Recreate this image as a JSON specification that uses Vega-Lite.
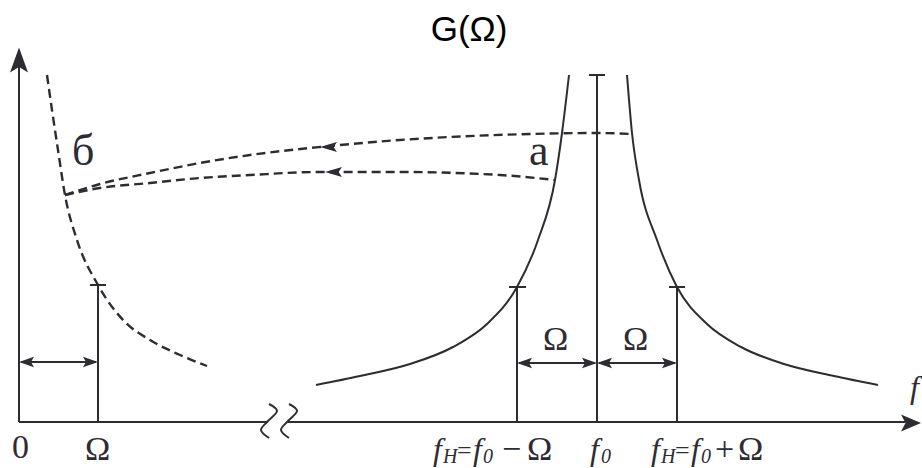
{
  "$schema": "https://vega.github.io/schema/vega-lite/v6.json",
  "width": 922,
  "height": 468,
  "autosize": {"type": "fit", "contains": "padding"},
  "padding": 0,
  "background": "white",
  "config": {"view": {"stroke": null}},
  "encoding": {
    "x": {"field": "x", "type": "quantitative", "axis": null, "scale": {"domain": [0, 922], "nice": false, "zero": false}},
    "y": {"field": "y", "type": "quantitative", "axis": null, "scale": {"domain": [0, 468], "nice": false, "zero": false}}
  },
  "layer": [
    {
      "data": {"values": [
        {"id": "yaxis", "x": 19, "y": 418}, {"id": "yaxis", "x": 19, "y": 46},
        {"id": "xaxisL", "x": 19, "y": 46}, {"id": "xaxisL", "x": 268, "y": 46},
        {"id": "xaxisR", "x": 288, "y": 46}, {"id": "xaxisR", "x": 905, "y": 46},
        {"id": "vOmega", "x": 98, "y": 46}, {"id": "vOmega", "x": 98, "y": 183},
        {"id": "cOmega", "x": 90, "y": 183}, {"id": "cOmega", "x": 106, "y": 183},
        {"id": "vLow", "x": 517, "y": 46}, {"id": "vLow", "x": 517, "y": 181},
        {"id": "cLow", "x": 509, "y": 181}, {"id": "cLow", "x": 526, "y": 181},
        {"id": "vF0", "x": 597, "y": 46}, {"id": "vF0", "x": 597, "y": 393},
        {"id": "cF0", "x": 589, "y": 393}, {"id": "cF0", "x": 605, "y": 393},
        {"id": "vHigh", "x": 677, "y": 46}, {"id": "vHigh", "x": 677, "y": 181},
        {"id": "cHigh", "x": 669, "y": 181}, {"id": "cHigh", "x": 685, "y": 181},
        {"id": "d1", "x": 21, "y": 106}, {"id": "d1", "x": 96, "y": 106},
        {"id": "d2", "x": 519, "y": 105}, {"id": "d2", "x": 595, "y": 105},
        {"id": "d3", "x": 599, "y": 105}, {"id": "d3", "x": 675, "y": 105}
      ]},
      "mark": {"type": "line", "color": "#2f2b33", "strokeWidth": 2},
      "encoding": {"detail": {"field": "id"}}
    },
    {
      "data": {"values": [
        {"id": "s1", "i": 0, "x": 269, "y": 64}, {"id": "s1", "i": 1, "x": 277, "y": 57},
        {"id": "s1", "i": 2, "x": 268, "y": 47}, {"id": "s1", "i": 3, "x": 261, "y": 38},
        {"id": "s1", "i": 4, "x": 269, "y": 30},
        {"id": "s2", "i": 0, "x": 289, "y": 64}, {"id": "s2", "i": 1, "x": 297, "y": 57},
        {"id": "s2", "i": 2, "x": 288, "y": 47}, {"id": "s2", "i": 3, "x": 281, "y": 38},
        {"id": "s2", "i": 4, "x": 289, "y": 30}
      ]},
      "mark": {"type": "line", "color": "#2f2b33", "strokeWidth": 2, "interpolate": "cardinal"},
      "encoding": {"detail": {"field": "id"}, "order": {"field": "i"}}
    },
    {
      "data": {"values": [
        {"id": "left", "x": 316, "y": 83}, {"id": "left", "x": 360, "y": 92},
        {"id": "left", "x": 410, "y": 104}, {"id": "left", "x": 453, "y": 121},
        {"id": "left", "x": 487, "y": 144}, {"id": "left", "x": 517, "y": 181},
        {"id": "left", "x": 538, "y": 228}, {"id": "left", "x": 555, "y": 288},
        {"id": "left", "x": 562, "y": 335}, {"id": "left", "x": 569, "y": 393},
        {"id": "right", "x": 627, "y": 393}, {"id": "right", "x": 632, "y": 335},
        {"id": "right", "x": 639, "y": 288}, {"id": "right", "x": 657, "y": 228},
        {"id": "right", "x": 677, "y": 181}, {"id": "right", "x": 707, "y": 144},
        {"id": "right", "x": 741, "y": 121}, {"id": "right", "x": 784, "y": 104},
        {"id": "right", "x": 834, "y": 92}, {"id": "right", "x": 878, "y": 83}
      ]},
      "mark": {"type": "line", "color": "#2f2b33", "strokeWidth": 2, "interpolate": "monotone"},
      "encoding": {"detail": {"field": "id"}}
    },
    {
      "data": {"values": [
        {"id": "b", "x": 47, "y": 393}, {"id": "b", "x": 52, "y": 358},
        {"id": "b", "x": 58, "y": 318}, {"id": "b", "x": 65, "y": 273},
        {"id": "b", "x": 77, "y": 228}, {"id": "b", "x": 98, "y": 183},
        {"id": "b", "x": 125, "y": 146}, {"id": "b", "x": 150, "y": 128},
        {"id": "b", "x": 180, "y": 113}, {"id": "b", "x": 207, "y": 102},
        {"id": "up", "x": 65, "y": 273}, {"id": "up", "x": 100, "y": 284},
        {"id": "up", "x": 150, "y": 295}, {"id": "up", "x": 200, "y": 305},
        {"id": "up", "x": 250, "y": 313}, {"id": "up", "x": 320, "y": 321},
        {"id": "up", "x": 400, "y": 328}, {"id": "up", "x": 450, "y": 331},
        {"id": "up", "x": 530, "y": 334}, {"id": "up", "x": 597, "y": 335},
        {"id": "up", "x": 632, "y": 334},
        {"id": "lo", "x": 65, "y": 273}, {"id": "lo", "x": 100, "y": 280},
        {"id": "lo", "x": 150, "y": 285}, {"id": "lo", "x": 200, "y": 290},
        {"id": "lo", "x": 250, "y": 293}, {"id": "lo", "x": 320, "y": 296},
        {"id": "lo", "x": 400, "y": 296}, {"id": "lo", "x": 500, "y": 293},
        {"id": "lo", "x": 555, "y": 288}
      ]},
      "mark": {"type": "line", "color": "#2f2b33", "strokeWidth": 2.4, "strokeDash": [9, 5], "interpolate": "monotone"},
      "encoding": {"detail": {"field": "id"}}
    },
    {
      "data": {"values": [{"x": 19, "y": 408}]},
      "mark": {"type": "point", "filled": true, "color": "#2f2b33", "opacity": 1, "size": 625, "shape": "M0,-1L0.72,1L0,0.55L-0.72,1Z"}
    },
    {
      "data": {"values": [{"x": 911, "y": 45}]},
      "mark": {"type": "point", "filled": true, "color": "#2f2b33", "opacity": 1, "size": 400, "shape": "M1,0L-1,-0.85L-0.55,0L-1,0.85Z"}
    },
    {
      "data": {"values": [
        {"dir": "left", "x": 26.5, "y": 106}, {"dir": "right", "x": 90.5, "y": 106},
        {"dir": "left", "x": 524.5, "y": 105}, {"dir": "right", "x": 589.5, "y": 105},
        {"dir": "left", "x": 604.5, "y": 105}, {"dir": "right", "x": 669.5, "y": 105}
      ]},
      "mark": {"type": "point", "filled": true, "color": "#2f2b33", "opacity": 1, "size": 225},
      "encoding": {"shape": {"field": "dir", "legend": null, "scale": {"domain": ["left", "right"], "range": ["M-1,0L1,-0.7L0.6,0L1,0.7Z", "M1,0L-1,-0.7L-0.6,0L-1,0.7Z"]}}}
    },
    {
      "data": {"values": [{"x": 328.5, "y": 321}, {"x": 333.5, "y": 296}]},
      "mark": {"type": "point", "filled": true, "color": "#2f2b33", "opacity": 1, "size": 289, "shape": "M-1,0L1,-0.6L0.6,0L1,0.6Z"}
    },
    {
      "data": {"values": [{"x": 469, "y": 427, "t": "G(Ω)"}]},
      "mark": {"type": "text", "font": "Liberation Sans", "fontSize": 35, "align": "center", "baseline": "alphabetic", "color": "#000000"},
      "encoding": {"text": {"field": "t"}}
    },
    {
      "data": {"values": [
        {"x": 12, "y": 10, "t": "0"},
        {"x": 85, "y": 8, "t": "Ω"},
        {"x": 543, "y": 118, "t": "Ω"},
        {"x": 623, "y": 118, "t": "Ω"},
        {"x": 527, "y": 8, "t": "Ω"},
        {"x": 738, "y": 8, "t": "Ω"},
        {"x": 502, "y": 8, "t": "−"},
        {"x": 715, "y": 8, "t": "+"}
      ]},
      "mark": {"type": "text", "font": "Times New Roman, Liberation Serif, DejaVu Serif, serif", "fontSize": 34, "align": "left", "baseline": "alphabetic", "color": "#2f2b33"},
      "encoding": {"text": {"field": "t"}}
    },
    {
      "data": {"values": [
        {"x": 457, "y": 9, "t": "="},
        {"x": 675, "y": 9, "t": "="}
      ]},
      "mark": {"type": "text", "font": "Times New Roman, Liberation Serif, DejaVu Serif, serif", "fontSize": 26, "align": "left", "baseline": "alphabetic", "color": "#2f2b33"},
      "encoding": {"text": {"field": "t"}}
    },
    {
      "data": {"values": [
        {"x": 72, "y": 303, "t": "б"},
        {"x": 529, "y": 303, "t": "a"}
      ]},
      "mark": {"type": "text", "font": "Times New Roman, Liberation Serif, DejaVu Serif, serif", "fontSize": 44, "align": "left", "baseline": "alphabetic", "color": "#2f2b33"},
      "encoding": {"text": {"field": "t"}}
    },
    {
      "data": {"values": [
        {"x": 433, "y": 8, "t": "f"},
        {"x": 473, "y": 8, "t": "f"},
        {"x": 590, "y": 8, "t": "f"},
        {"x": 651, "y": 8, "t": "f"},
        {"x": 691, "y": 8, "t": "f"},
        {"x": 910, "y": 70, "t": "f"}
      ]},
      "mark": {"type": "text", "font": "Times New Roman, Liberation Serif, DejaVu Serif, serif", "fontStyle": "italic", "fontSize": 32, "align": "left", "baseline": "alphabetic", "color": "#2f2b33"},
      "encoding": {"text": {"field": "t"}}
    },
    {
      "data": {"values": [
        {"x": 443, "y": 5, "t": "H"},
        {"x": 661, "y": 5, "t": "H"},
        {"x": 483, "y": 5, "t": "0"},
        {"x": 601, "y": 5, "t": "0"},
        {"x": 701, "y": 5, "t": "0"}
      ]},
      "mark": {"type": "text", "font": "Times New Roman, Liberation Serif, DejaVu Serif, serif", "fontStyle": "italic", "fontSize": 20, "align": "left", "baseline": "alphabetic", "color": "#2f2b33"},
      "encoding": {"text": {"field": "t"}}
    }
  ]
}
